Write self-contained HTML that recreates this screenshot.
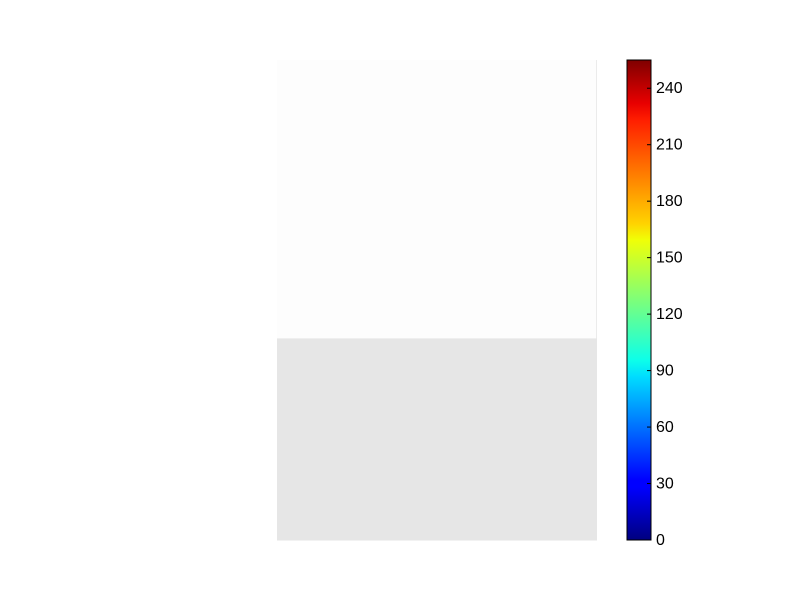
<!DOCTYPE html>
<html><head><meta charset="utf-8"><style>
body{margin:0;background:#fff;}
svg text{font-family:"Liberation Sans",sans-serif;font-size:16px;fill:#000;}
</style></head><body>
<svg width="800" height="600">
<defs>
<linearGradient id="jet" x1="0" y1="1" x2="0" y2="0">
<stop offset="0" stop-color="#00007f"/>
<stop offset="0.11" stop-color="#0000ff"/>
<stop offset="0.125" stop-color="#0000ff"/>
<stop offset="0.34" stop-color="#00dcff"/>
<stop offset="0.375" stop-color="#0dffe9"/>
<stop offset="0.5" stop-color="#7dff7a"/>
<stop offset="0.625" stop-color="#f0ff07"/>
<stop offset="0.66" stop-color="#ffd200"/>
<stop offset="0.875" stop-color="#ff1e00"/>
<stop offset="0.91" stop-color="#e80000"/>
<stop offset="1" stop-color="#7f0000"/>
</linearGradient>
</defs>
<g id="heat"></g>
<rect x="627" y="60" width="24" height="480" fill="url(#jet)" stroke="#000" stroke-width="1"/>
<g id="cticks"></g>
</svg>
<script>
const rowValues = [[253, 235], [230, 230]];
const rowFractions = [0.58, 0.42];
const tickValues = [0, 30, 60, 90, 120, 150, 180, 210, 240];
const vmin = 0, vmax = 255;
const X0 = 277, X1 = 597, Y0 = 60, Y1 = 540;
const edgeW = 1;
const ns = "http://www.w3.org/2000/svg";
const heat = document.getElementById('heat');
let y = Y0;
rowValues.forEach((row, r) => {
  const h = rowFractions[r] * (Y1 - Y0);
  row.forEach((v, c) => {
    const rect = document.createElementNS(ns, 'rect');
    const last = c === row.length - 1;
    const x = last ? X1 - edgeW : X0;
    const w = last ? edgeW : (X1 - X0 - edgeW);
    rect.setAttribute('x', x); rect.setAttribute('y', y);
    rect.setAttribute('width', w); rect.setAttribute('height', h + 0.5);
    const g = Math.round(v);
    rect.setAttribute('fill', `rgb(${g},${g},${g})`);
    
    
    heat.appendChild(rect);
  });
  y += h;
});
const ct = document.getElementById('cticks');
const cy = v => Y1 - (v - vmin) / (vmax - vmin) * (Y1 - Y0);
tickValues.forEach(v => {
  const l = document.createElementNS(ns, 'line');
  l.setAttribute('x1', 647); l.setAttribute('x2', 651);
  l.setAttribute('y1', cy(v)); l.setAttribute('y2', cy(v));
  l.setAttribute('stroke', '#000');
  
  
  ct.appendChild(l);
  const t = document.createElementNS(ns, 'text');
  t.setAttribute('x', 656); t.setAttribute('y', cy(v) + 5);
  t.textContent = v;
  
  
  ct.appendChild(t);
});
</script>
</body></html>
